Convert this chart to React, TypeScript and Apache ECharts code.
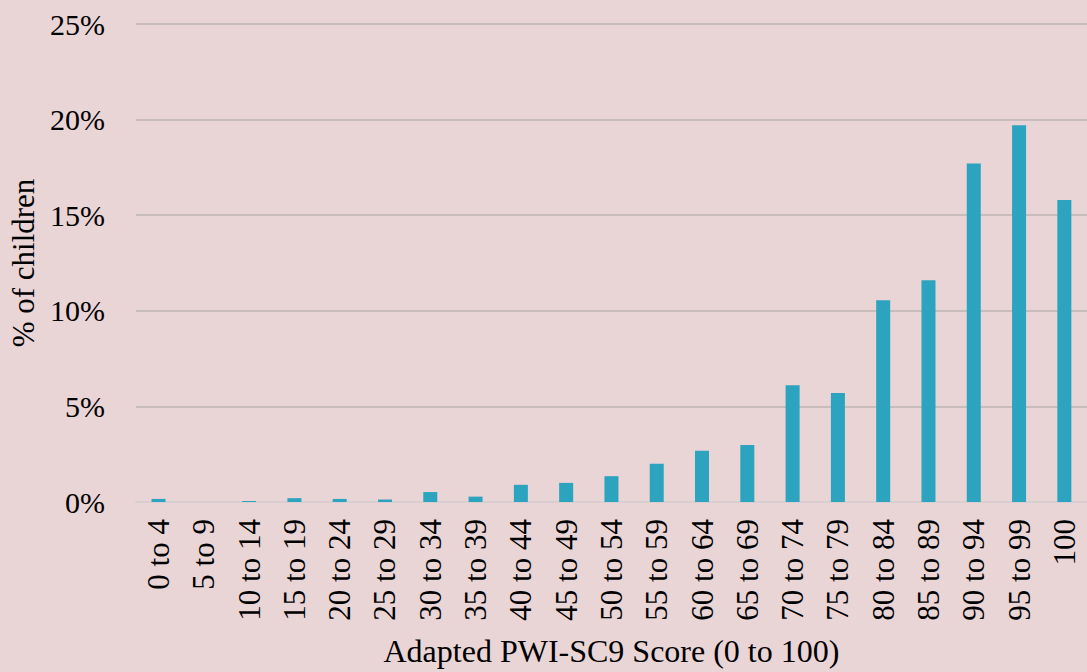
import React, { useEffect, useRef } from "react";
import * as echarts from "echarts";

const categories = [
  "0 to 4", "5 to 9", "10 to 14", "15 to 19", "20 to 24", "25 to 29", "30 to 34",
  "35 to 39", "40 to 44", "45 to 49", "50 to 54", "55 to 59", "60 to 64", "65 to 69",
  "70 to 74", "75 to 79", "80 to 84", "85 to 89", "90 to 94", "95 to 99", "100",
];
const percentChildren = [
  0.16, 0, 0.05, 0.2, 0.16, 0.13, 0.52, 0.28, 0.9, 1.0, 1.35, 2.0, 2.68, 2.98,
  6.1, 5.7, 10.55, 11.6, 17.7, 19.7, 15.8,
];
const xTitle = "Adapted PWI-SC9 Score (0 to 100)";
const yTitle = "% of children";

const FONT = "'Liberation Serif', 'Times New Roman', serif";

export default function App() {
  const ref = useRef<HTMLDivElement>(null);
  useEffect(() => {
    if (!ref.current) return;
    const chart = echarts.init(ref.current, null, { renderer: "svg" });
    chart.setOption({
      animation: false,
      backgroundColor: "#e9d4d6",
      grid: { left: 135, right: -7, top: 24, bottom: 169, containLabel: false },
      xAxis: {
        type: "category",
        data: categories,
        axisLine: { show: true, lineStyle: { color: "#d9cfd0", width: 2 } },
        axisTick: { show: false },
        axisLabel: {
          rotate: 90,
          interval: 0,
          margin: 17,
          color: "#000",
          fontFamily: FONT,
          fontSize: 31,
        },
        name: xTitle,
        nameLocation: "middle",
        nameGap: 133,
        nameTextStyle: { color: "#000", fontFamily: FONT, fontSize: 32 },
      },
      yAxis: {
        type: "value",
        min: 0,
        max: 25,
        interval: 5,
        axisLine: { show: false },
        axisTick: { show: false },
        splitLine: { lineStyle: { color: "#bdb4b5", width: 1.5 } },
        axisLabel: {
          formatter: "{value}%",
          margin: 31,
          color: "#000",
          fontFamily: FONT,
          fontSize: 30,
        },
        name: yTitle,
        nameLocation: "middle",
        nameGap: 96,
        nameTextStyle: { color: "#000", fontFamily: FONT, fontSize: 31 },
      },
      series: [
        {
          type: "bar",
          data: percentChildren,
          barWidth: 14,
          itemStyle: { color: "#2ca3bf" },
        },
      ],
    });
    return () => chart.dispose();
  }, []);
  return (
    <div
      ref={ref}
      style={{ position: "fixed", left: 0, top: 0, width: 1087, height: 672 }}
    />
  );
}
